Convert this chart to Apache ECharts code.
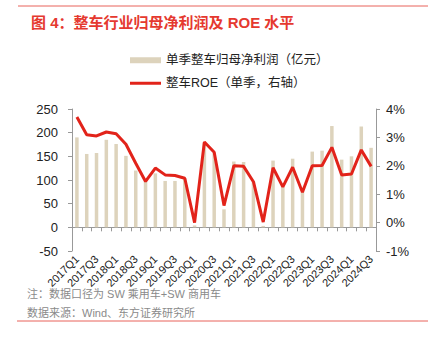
<!DOCTYPE html>
<html><head><meta charset="utf-8">
<script src="https://cdn.jsdelivr.net/npm/echarts@6/dist/echarts.min.js"></script>
<style>html,body{margin:0;padding:0;background:#fff}#c{width:437px;height:337px}</style>
</head><body><div id="c"></div>
<script>
const categories = ['2017Q1','2017Q2','2017Q3','2017Q4','2018Q1','2018Q2','2018Q3','2018Q4',
  '2019Q1','2019Q2','2019Q3','2019Q4','2020Q1','2020Q2','2020Q3','2020Q4',
  '2021Q1','2021Q2','2021Q3','2021Q4','2022Q1','2022Q2','2022Q3','2022Q4',
  '2023Q1','2023Q2','2023Q3','2023Q4','2024Q1','2024Q2','2024Q3'];
const profit = [190,155,157,185,176,151,120,97,114,98,98,103,4,178,157,38,139,138,97,3,141,85,145,75,160,162,214,143,150,213,168];
const roe = [3.72,3.09,3.05,3.19,3.13,2.76,2.09,1.45,1.92,1.68,1.66,1.56,0.0,2.84,2.48,0.6,2.0,1.98,1.44,0.02,1.93,1.26,1.95,1.07,2.0,2.01,2.65,1.68,1.71,2.56,1.98];
const leftRange = {min: -50, max: 250, step: 50};
const rightRange = {min: -1, max: 4, step: 1};
const titleText = '图 4：整车行业归母净利润及 ROE 水平';
const noteText = '注：数据口径为 SW 乘用车+SW 商用车';
const sourceText = '数据来源：Wind、东方证券研究所';
const barName = '单季整车归母净利润（亿元）';
const lineName = '整车ROE（单季，右轴）';

const FONT = "'Liberation Sans','Noto Sans CJK SC',sans-serif";
const chart = echarts.init(document.getElementById('c'), null, {renderer: 'svg'});
chart.setOption({
  animation: false,
  textStyle: {fontFamily: FONT},
  title: {
    text: titleText, left: 26, top: 10,
    textStyle: {fontSize: 15, fontWeight: 'bold', color: '#e5392f', fontFamily: FONT}
  },
  legend: [
    {data: [{name: barName, icon: 'rect'}], orient: 'vertical', left: 125, top: 49,
     itemWidth: 31, itemHeight: 6, itemGap: 8,
     textStyle: {fontSize: 12.5, color: '#222', fontFamily: FONT}},
    {data: [{name: lineName, icon: 'rect'}], orient: 'vertical', left: 125, top: 72,
     itemWidth: 31, itemHeight: 3,
     textStyle: {fontSize: 12.5, color: '#222', fontFamily: FONT}}
  ],
  grid: {left: 72, right: 61, top: 109, bottom: 86},
  xAxis: {
    type: 'category', data: categories,
    axisLine: {onZero: true, lineStyle: {color: '#999', width: 1}},
    axisTick: {show: true, interval: 0, length: 4, lineStyle: {color: '#999'}},
    axisLabel: {interval: 1, rotate: 45, fontSize: 11, color: '#222', margin: 6, fontFamily: FONT}
  },
  yAxis: [
    {type: 'value', min: leftRange.min, max: leftRange.max, interval: leftRange.step,
     splitLine: {show: false},
     axisLine: {show: true, lineStyle: {color: '#999'}},
     axisTick: {show: true, length: 4, lineStyle: {color: '#999'}},
     axisLabel: {fontSize: 13, color: '#222', margin: 14, fontFamily: FONT}},
    {type: 'value', min: rightRange.min, max: rightRange.max, interval: rightRange.step,
     position: 'right', splitLine: {show: false},
     axisLine: {show: true, lineStyle: {color: '#999'}},
     axisTick: {show: true, length: 4, lineStyle: {color: '#999'}},
     axisLabel: {fontSize: 13, color: '#222', margin: 10, formatter: '{value}%', fontFamily: FONT}}
  ],
  series: [
    {name: barName, type: 'bar', data: profit, yAxisIndex: 0, barWidth: 3.5,
     itemStyle: {color: '#ddd3bc'}},
    {name: lineName, type: 'line', data: roe, yAxisIndex: 1, showSymbol: false, symbol: 'none',
     lineStyle: {color: '#e2231a', width: 3}, itemStyle: {color: '#e2231a'}, z: 3}
  ],
  graphic: [
    {type: 'line', shape: {x1: 18, y1: 6, x2: 428, y2: 6}, style: {stroke: '#e8625b', lineWidth: 1}},
    {type: 'line', shape: {x1: 17, y1: 321, x2: 428, y2: 321}, style: {stroke: '#e8625b', lineWidth: 1}},
    {type: 'text', left: 27, top: 288, style: {text: noteText, fontSize: 11, fill: '#8a8a8a', fontFamily: FONT}},
    {type: 'text', left: 27, top: 307, style: {text: sourceText, fontSize: 11, fill: '#8a8a8a', fontFamily: FONT}}
  ]
});
</script></body></html>
